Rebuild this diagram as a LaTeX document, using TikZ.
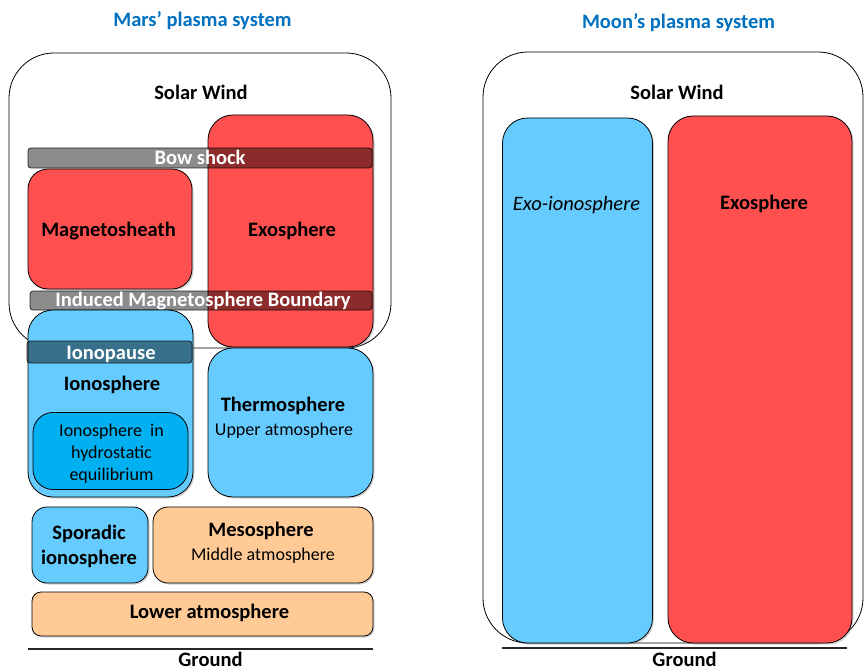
\documentclass[tikz,border=0pt]{standalone}
\usepackage{fontspec}
\setmainfont{Carlito}
\usetikzlibrary{shadows}
\definecolor{marsred}{HTML}{FF5050}
\definecolor{lblue}{HTML}{66CCFF}
\definecolor{dblue}{HTML}{00B0F0}
\definecolor{peach}{HTML}{FFCA96}
\definecolor{titleblue}{HTML}{0070C0}
\tikzset{
  box/.style={draw=black, line width=0.8pt, anchor=north west, inner sep=0pt, outer sep=0pt,
    drop shadow={shadow xshift=1.5pt, shadow yshift=-1.5pt, opacity=0.35}},
  plainbox/.style={draw=black, line width=0.8pt, anchor=north west, inner sep=0pt, outer sep=0pt},
  bar/.style={draw=black, draw opacity=0.8, line width=0.8pt, fill=black, fill opacity=0.45,
    rounded corners=3pt, anchor=north west, inner sep=0pt, outer sep=0pt},
  bt/.style={font=\fontsize{20.5}{24}\selectfont\bfseries, inner sep=0pt, anchor=base},
  rt/.style={font=\fontsize{18}{22}\selectfont, inner sep=0pt, anchor=base},
  wt/.style={bt, text=white},
  ttl/.style={bt, text=titleblue},
  groundline/.style={line width=2.2pt, draw=black!85},
}
\begin{document}
\begin{tikzpicture}[x=1pt,y=-1pt]
\useasboundingbox (0,0) rectangle (864,671);

% ---------------- Mars ----------------
\node[ttl] (marstitle) at (202.5,27) {Mars’ plasma system};

\node[plainbox, fill=white, rounded corners=45pt, minimum width=382, minimum height=295] (sw) at (9,53) {};
\node[bt] (swt) at (201,100) {Solar Wind};

\node[box, fill=marsred, rounded corners=25pt, minimum width=165, minimum height=232] (exo) at (208,115) {};
\node[box, fill=marsred, rounded corners=20pt, minimum width=164, minimum height=120] (msh) at (28,169) {};

\node[bar, minimum width=344, minimum height=20] (bow) at (28,148) {};
\node[wt] (bowt) at (200,165) {Bow shock};

\node[bar, minimum width=342, minimum height=19] (imb) at (30,291) {};
\node[wt] (imbt) at (203,306.5) {Induced Magnetosphere Boundary};

\node[bt] (msht) at (108.5,236) {Magnetosheath};
\node[bt] (exot) at (292,236) {Exosphere};

\node[box, fill=lblue, rounded corners=25pt, minimum width=165, minimum height=187] (iono) at (28,310) {};
\node[bar, minimum width=165, minimum height=22] (ipause) at (27,341) {};
\node[wt] (ipauset) at (111,359) {Ionopause};
\node[bt] (ionot) at (112,390) {Ionosphere};

\node[plainbox, fill=dblue, rounded corners=20pt, minimum width=155, minimum height=77] (hyd) at (33,412.5) {};
\node[rt] (hydt1) at (111.5,436) {Ionosphere\hspace{0.45em}in};
\node[rt] (hydt2) at (111.5,458) {hydrostatic};
\node[rt] (hydt3) at (111.5,480) {equilibrium};

\node[box, fill=lblue, rounded corners=25pt, minimum width=165, minimum height=149] (thermo) at (208,348) {};
\node[bt] (thermot) at (283,411) {Thermosphere};
\node[rt] (thermot2) at (284,435) {Upper atmosphere};

\node[box, fill=lblue, rounded corners=15pt, minimum width=116, minimum height=76] (spor) at (32,507) {};
\node[bt] (sport1) at (89,539) {Sporadic};
\node[bt] (sport2) at (89,564) {ionosphere};

\node[box, fill=peach, rounded corners=15pt, minimum width=220, minimum height=76] (meso) at (153,507) {};
\node[bt] (mesot) at (261,536) {Mesosphere};
\node[rt] (mesot2) at (263,560) {Middle atmosphere};

\node[box, fill=peach, rounded corners=9pt, minimum width=341, minimum height=44] (lower) at (32,592) {};
\node[bt] (lowert) at (209.5,618) {Lower atmosphere};

\coordinate (gm1) at (28,649);
\coordinate (gm2) at (373,649);
\draw[groundline] (gm1) -- (gm2);
\node[bt] (gmt) at (210.5,666.5) {Ground};

% ---------------- Moon ----------------
\node[ttl] (moontitle) at (678.5,29) {Moon’s plasma system};

\node[plainbox, fill=white, rounded corners=45pt, minimum width=380, minimum height=591] (msw) at (483,52) {};
\node[bt] (mswt) at (677,100) {Solar Wind};

\node[box, fill=lblue, rounded corners=25pt, minimum width=150, minimum height=525] (exoi) at (502.5,118) {};
\node[rt, font=\fontsize{20.5}{24}\selectfont\itshape] (exoit) at (576.5,211) {Exo-ionosphere};

\node[box, fill=marsred, rounded corners=25pt, minimum width=184, minimum height=527] (mexo) at (668,116) {};
\node[bt] (mexot) at (764,209) {Exosphere};

\coordinate (gn1) at (502,648);
\coordinate (gn2) at (847,648);
\draw[groundline] (gn1) -- (gn2);
\node[bt] (gnt) at (684.5,666.5) {Ground};
\end{tikzpicture}
\end{document}
